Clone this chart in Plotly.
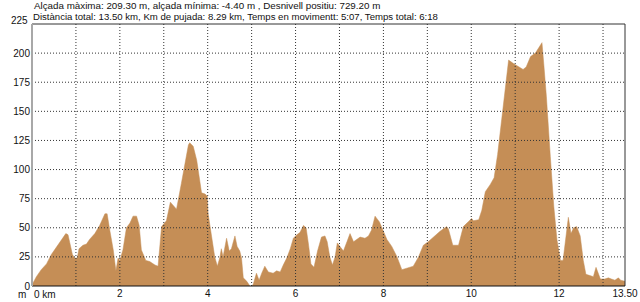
import plotly.graph_objects as go

dist_km = [0.0, 0.1, 0.21, 0.33, 0.44, 0.55, 0.63, 0.71, 0.77, 0.82, 0.86, 0.92, 0.97, 1.03, 1.07,
           1.16, 1.24, 1.31, 1.43, 1.54, 1.66, 1.71, 1.77, 1.85, 1.91, 1.96, 2.0, 2.07, 2.15, 2.23,
           2.3, 2.38, 2.44, 2.49, 2.59, 2.68, 2.8, 2.87, 2.95, 3.06, 3.15, 3.25, 3.29, 3.4, 3.48,
           3.56, 3.59, 3.67, 3.75, 3.82, 3.86, 3.94, 3.99, 4.01, 4.09, 4.16, 4.22, 4.28, 4.31, 4.35,
           4.43, 4.49, 4.54, 4.62, 4.67, 4.73, 4.77, 4.81, 4.89, 4.96, 5.0, 5.04, 5.11, 5.17, 5.23,
           5.3, 5.38, 5.49, 5.57, 5.65, 5.72, 5.8, 5.88, 5.95, 6.03, 6.1, 6.18, 6.24, 6.29, 6.35,
           6.42, 6.5, 6.59, 6.67, 6.72, 6.78, 6.84, 6.9, 6.95, 7.01, 7.09, 7.17, 7.24, 7.32, 7.39,
           7.47, 7.58, 7.66, 7.73, 7.81, 7.91, 7.99, 8.08, 8.19, 8.31, 8.42, 8.53, 8.68, 8.8, 8.91,
           9.02, 9.14, 9.29, 9.44, 9.48, 9.58, 9.71, 9.82, 9.9, 10.01, 10.05, 10.17, 10.24, 10.32,
           10.43, 10.52, 10.6, 10.7, 10.8, 10.85, 10.96, 11.08, 11.18, 11.25, 11.35, 11.46, 11.53,
           11.61, 11.65, 11.71, 11.8, 11.88, 11.95, 12.03, 12.09, 12.14, 12.21, 12.27, 12.33, 12.4,
           12.48, 12.55, 12.61, 12.7, 12.78, 12.84, 12.89, 12.94, 13.04, 13.12, 13.19, 13.27, 13.35,
           13.4, 13.5]
elev_m = [1, 8, 14, 19, 27, 33, 37, 42, 45, 44, 38, 27, 24, 24, 32,
          35, 36, 40, 45, 52, 62, 62, 48, 31, 13, 24, 22, 31, 50, 54,
          60, 60, 52, 31, 22, 21, 18, 17, 51, 56, 72, 68, 66, 88, 106,
          121, 123, 120, 108, 91, 80, 79, 77, 62, 42, 25, 17, 25, 32, 25,
          41, 30, 32, 43, 34, 30, 24, 7, 4, 0, -1, 2, 11, 5, 11,
          17, 12, 11, 13, 12, 18, 24, 32, 41, 44, 46, 52, 50, 37, 19,
          16, 30, 42, 43, 38, 25, 18, 25, 37, 34, 30, 38, 45, 38, 40,
          42, 41, 43, 48, 60, 55, 48, 40, 34, 25, 14, 15, 17, 25, 35,
          38, 42, 47, 51, 49, 35, 35, 51, 54, 58, 56, 57, 65, 81,
          87, 93, 113, 145, 177, 194, 191, 188, 186, 188, 197, 200, 204,
          209, 191, 163, 111, 68, 40, 22, 22, 37, 59, 45, 50, 51,
          43, 22, 10, 9, 8, 16, 11, 6, 6, 7, 6, 5, 7,
          5, 4]

x_grid = list(range(0, 14)) + [13.5]
x_labels = ["", "", "2", "", "4", "", "6", "", "8", "", "10", "", "12", "", "13.50"]
y_ticks = [0, 25, 50, 75, 100, 125, 150, 175, 200, 225]
y_labels = ["0", "25", "50", "75", "100", "125", "150", "175", "200", "225"]

title_lines = [
    "Alçada màxima: 209.30 m, alçada mínima: -4.40 m , Desnivell positiu: 729.20 m",
    "Distància total: 13.50 km, Km de pujada: 8.29 km, Temps en movimentt: 5:07, Temps total: 6:18",
]

FILL = "#C58E56"
FONT = "Liberation Sans, Arial, sans-serif"
TXT = "#111111"

fig = go.Figure()
fig.add_trace(go.Scatter(x=dist_km, y=elev_m, mode="lines", fill="tozeroy",
                         fillcolor=FILL, line=dict(color=FILL, width=0.5),
                         hoverinfo="skip", showlegend=False))

shapes = []
grid_style = dict(color="#333333", width=1, dash="1px,2px")
for xv in x_grid[1:-1]:
    shapes.append(dict(type="line", xref="x", yref="paper", x0=xv, x1=xv, y0=0, y1=1,
                       line=grid_style, layer="above"))
for yv in y_ticks[1:-1]:
    shapes.append(dict(type="line", xref="paper", yref="y", x0=0, x1=1, y0=yv, y1=yv,
                       line=grid_style, layer="above"))
# borders
shapes.append(dict(type="line", xref="paper", yref="paper", x0=0, x1=1, y0=1, y1=1,
                   line=dict(color="#333333", width=1), layer="above"))
shapes.append(dict(type="line", xref="paper", yref="paper", x0=1, x1=1, y0=0, y1=1,
                   line=dict(color="#333333", width=1), layer="above"))
shapes.append(dict(type="line", xref="paper", yref="paper", x0=0, x1=1, y0=0, y1=0,
                   line=dict(color="#111111", width=1), layer="above"))
shapes.append(dict(type="line", xref="paper", yref="paper", x0=0, x1=0, y0=0, y1=1,
                   line=dict(color="#A8A8A8", width=2), layer="above"))

annotations = [
    dict(text=title_lines[0], xref="paper", yref="paper", x=0, y=1, xanchor="left",
         yanchor="bottom", yshift=11, showarrow=False,
         font=dict(family=FONT, size=9.8, color=TXT)),
    dict(text=title_lines[1], xref="paper", yref="paper", x=0, y=1, xanchor="left",
         yanchor="bottom", xshift=-1, yshift=0, showarrow=False,
         font=dict(family=FONT, size=9.6, color=TXT)),
    # top y label, drawn a little above its gridline as in the reference
    dict(text=y_labels[-1], xref="paper", yref="y", x=0, y=y_ticks[-1], xanchor="right",
         yanchor="middle", xshift=-2, yshift=4, showarrow=False,
         font=dict(family=FONT, size=10, color=TXT)),
    dict(text="0 km", xref="x", yref="paper", x=0, y=0, xanchor="left",
         yanchor="top", yshift=-1, showarrow=False, font=dict(family=FONT, size=10, color=TXT)),
    dict(text="m", xref="paper", yref="paper", x=0, y=0, xanchor="right",
         yanchor="top", xshift=-4, yshift=-1, showarrow=False,
         font=dict(family=FONT, size=10, color=TXT)),
]

fig.update_layout(
    width=640, height=302,
    margin=dict(l=32, r=15, t=24, b=16, autoexpand=False),
    paper_bgcolor="white", plot_bgcolor="white",
    shapes=shapes, annotations=annotations,
    font=dict(family=FONT, size=10, color=TXT),
    xaxis=dict(range=[0, 13.5], tickvals=x_grid, ticktext=x_labels, showgrid=False,
               zeroline=False, showline=False, ticks="", automargin=False),
    yaxis=dict(range=[0, 225], tickvals=y_ticks[:-1], ticktext=y_labels[:-1], showgrid=False,
               zeroline=False, showline=False, ticks="", ticklabelstandoff=1, automargin=False),
)

fig.write_html("out.html")
